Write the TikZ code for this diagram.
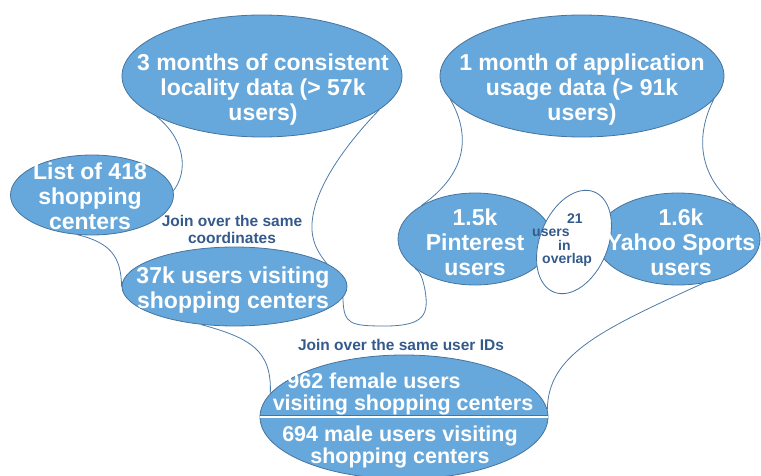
\documentclass[tikz,border=0pt]{standalone}
\usepackage{fontspec}
\setmainfont{Liberation Sans}
\usetikzlibrary{shapes.geometric,calc}
\definecolor{fillc}{RGB}{102,168,219}
\definecolor{edgec}{RGB}{70,115,160}
\definecolor{linec}{RGB}{78,123,168}
\definecolor{darkc}{RGB}{52,90,140}
\pgfdeclarelayer{bg}
\pgfsetlayers{bg,main}
\begin{document}
\begin{tikzpicture}[x=1pt,y=-1pt,
  bubble/.style={ellipse,draw=edgec,fill=fillc,line width=0.8pt,inner sep=0pt},
  bigtxt/.style={text=white,font=\fontsize{23}{25}\selectfont\bfseries,align=center,inner sep=0pt},
  midtxt/.style={text=white,font=\fontsize{21.5}{22}\selectfont\bfseries,align=center,inner sep=0pt},
  jointxt/.style={text=darkc,font=\fontsize{15.5}{17}\selectfont\bfseries,align=center,inner sep=0pt},
  conn/.style={draw=linec,line width=0.8pt}]
\useasboundingbox (0,0) rectangle (761,476);

% ellipses
\node[bubble,minimum width=280pt,minimum height=122pt] (m3) at (262,76) {};
\node[bubble,minimum width=284pt,minimum height=122pt] (m1) at (582,76) {};
\node[bubble,minimum width=163pt,minimum height=80pt] (list) at (92,195) {};
\node[bubble,minimum width=225pt,minimum height=79pt] (k37) at (234.5,286.5) {};
\node[bubble,minimum width=154pt,minimum height=92pt] (pin) at (475,239) {};
\node[bubble,minimum width=164pt,minimum height=92pt] (yah) at (678,239) {};
\node[ellipse,draw=edgec,fill=white,line width=0.8pt,inner sep=0pt,rotate=-22,
      minimum width=68pt,minimum height=108pt] (ov) at (574,242) {};
\node[bubble,minimum width=288pt,minimum height=124pt] (bot) at (404,417) {};
\draw[white,line width=2.4pt] (bot.west) -- (bot.east);
\draw[edgec,line width=0.6pt] ([yshift=1.7pt]bot.west) -- ([yshift=1.7pt]bot.east);

% texts
\node[bigtxt] (m3t) at (263,90) {3 months of consistent\\locality data (> 57k\\users)};
\node[bigtxt] (m1t) at (582,90) {1 month of application\\usage data (> 91k\\users)};
\node[bigtxt] (listt) at (90,196) {List of 418\\shopping\\centers};
\node[bigtxt] (k37t) at (233,290) {37k users visiting\\shopping centers};
\node[bigtxt] (pint) at (475,242) {1.5k\\Pinterest\\users};
\node[bigtxt] (yaht) at (681,242) {1.6k\\Yahoo Sports\\users};
\node[jointxt,align=left,font=\fontsize{14}{13.2}\selectfont\bfseries,anchor=west]
  (ovt) at (532,240) {\hspace*{35pt}21\\users\\\hspace*{26pt}in\\\hspace*{10pt}overlap};
\node[midtxt] (bott) at (403,394) {962 female users\kern58pt\\visiting shopping centers};
\node[midtxt] (botb) at (400,447) {694 male users visiting\\shopping centers};
\node[jointxt] (join1) at (232,229) {Join over the same\\coordinates};
\node[jointxt] (join2) at (401,345) {Join over the same user IDs};

% connectors
\begin{pgfonlayer}{bg}
\draw[conn] (m3.201) .. controls (186,140) and (188,172) .. (list.3);
\draw[conn] (m3.344) .. controls (350,140) and (310,190) .. (312,230)
  .. controls (314,262) and (342,268) .. (343,300)
  .. controls (344,324) and (350,326) .. (385,326)
  .. controls (425,326) and (429,314) .. (425,290)
  .. controls (423,280) and (421,272) .. (pin.206);
\draw[conn] (m1.190) .. controls (468,130) and (472,170) .. (pin.148);
\draw[conn] (m1.350) .. controls (698,130) and (694,172) .. (yah.30);
\draw[conn] (yah.300) .. controls (600,330) and (548,355) .. (bot.3);
\draw[conn] (k37.229) .. controls (250,338) and (272,350) .. (bot.170);
\draw[conn] (list.250) .. controls (112,243) and (121,258) .. (k37.west);
\end{pgfonlayer}
\end{tikzpicture}
\end{document}
